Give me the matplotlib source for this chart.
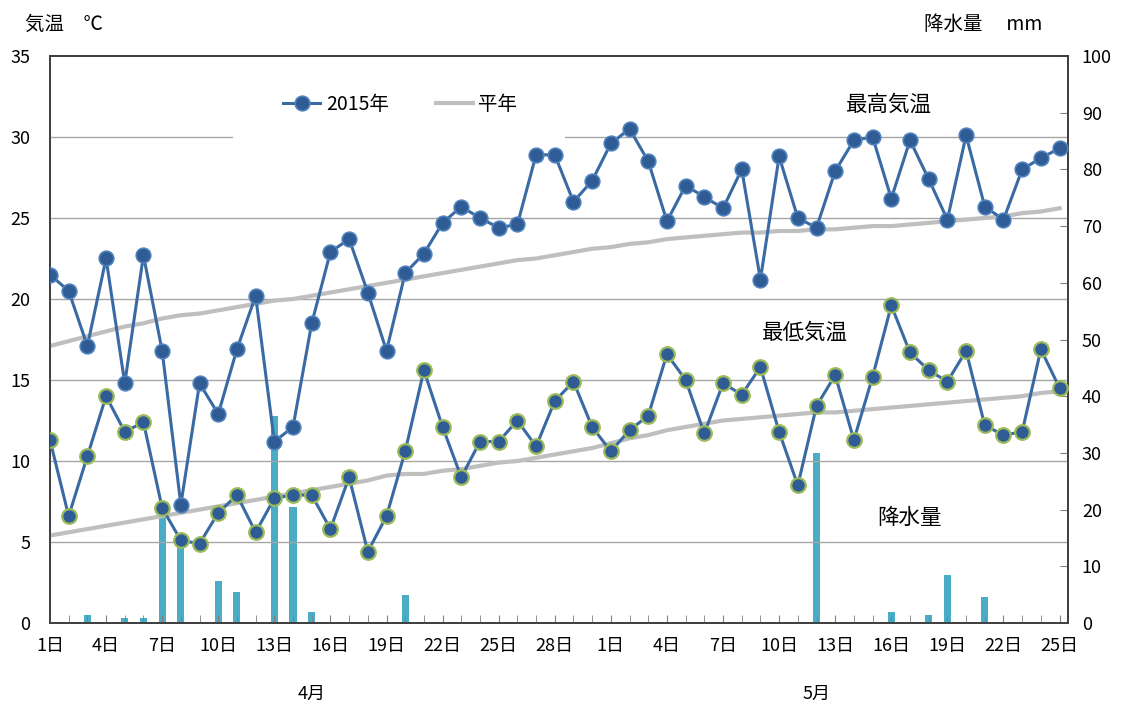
import matplotlib
matplotlib.use('Agg')
import matplotlib.pyplot as plt
from matplotlib.patches import Rectangle
import numpy as np

plt.rcParams['font.family'] = ['Noto Sans CJK JP', 'DejaVu Sans']

# April 1 .. May 25
months = [4] * 30 + [5] * 25
days = list(range(1, 31)) + list(range(1, 26))

max_2015 = [21.5, 20.5, 17.1, 22.5, 14.8, 22.7, 16.8, 7.3, 14.8, 12.9,
            16.9, 20.2, 11.2, 12.1, 18.5, 22.9, 23.7, 20.4, 16.8, 21.6,
            22.8, 24.7, 25.7, 25.0, 24.4, 24.6, 28.9, 28.9, 26.0, 27.3,
            29.6, 30.5, 28.5, 24.8, 27.0, 26.3, 25.6, 28.0, 21.2, 28.8,
            25.0, 24.4, 27.9, 29.8, 30.0, 26.2, 29.8, 27.4, 24.9, 30.1,
            25.7, 24.9, 28.0, 28.7, 29.3]
min_2015 = [11.3, 6.6, 10.3, 14.0, 11.8, 12.4, 7.1, 5.1, 4.9, 6.8,
            7.9, 5.6, 7.7, 7.9, 7.9, 5.8, 9.0, 4.4, 6.6, 10.6,
            15.6, 12.1, 9.0, 11.2, 11.2, 12.5, 10.9, 13.7, 14.9, 12.1,
            10.6, 11.9, 12.8, 16.6, 15.0, 11.7, 14.8, 14.1, 15.8, 11.8,
            8.5, 13.4, 15.3, 11.3, 15.2, 19.6, 16.7, 15.6, 14.9, 16.8,
            12.2, 11.6, 11.8, 16.9, 14.5]
max_normal = [17.1, 17.4, 17.7, 18.0, 18.3, 18.5, 18.8, 19.0, 19.1, 19.3,
              19.5, 19.7, 19.9, 20.0, 20.2, 20.4, 20.6, 20.8, 21.0, 21.2,
              21.4, 21.6, 21.8, 22.0, 22.2, 22.4, 22.5, 22.7, 22.9, 23.1,
              23.2, 23.4, 23.5, 23.7, 23.8, 23.9, 24.0, 24.1, 24.1, 24.2,
              24.2, 24.3, 24.3, 24.4, 24.5, 24.5, 24.6, 24.7, 24.8, 24.9,
              25.0, 25.1, 25.3, 25.4, 25.6]
min_normal = [5.4, 5.6, 5.8, 6.0, 6.2, 6.4, 6.6, 6.8, 7.0, 7.2,
              7.4, 7.6, 7.8, 8.0, 8.2, 8.4, 8.6, 8.8, 9.1, 9.2,
              9.2, 9.4, 9.5, 9.7, 9.9, 10.0, 10.2, 10.4, 10.6, 10.8,
              11.1, 11.4, 11.6, 11.9, 12.1, 12.3, 12.5, 12.6, 12.7, 12.8,
              12.9, 13.0, 13.0, 13.1, 13.2, 13.3, 13.4, 13.5, 13.6, 13.7,
              13.8, 13.9, 14.0, 14.2, 14.3]
precip = [0, 0, 1.4, 0, 0.9, 0.9, 20.5, 14.0, 0, 7.4,
          5.4, 0, 36.5, 20.5, 2.0, 0, 0, 0, 0, 4.9,
          0, 0, 0, 0, 0, 0, 0, 0, 0, 0,
          0, 0, 0, 0, 0, 0, 0, 0, 0, 0,
          0, 29.9, 0, 0, 0, 2.0, 0, 1.4, 8.5, 0,
          4.5, 0, 0, 0, 0]

x = np.arange(len(days))
line_c = '#3a6aa3'
dot_c = '#2f5c94'

fig = plt.figure(figsize=(11.23, 7.07), dpi=100)
ax = fig.add_axes([0.0445, 0.1188, 0.9065, 0.802])
ax2 = ax.twinx()

# precipitation bars on secondary axis, drawn behind the temperature lines
ax2.bar(x, precip, width=0.38, color='#4bacc6', zorder=2)
ax2.set_ylim(0, 100)
ax2.set_yticks(range(0, 101, 10))

ax.set_zorder(ax2.get_zorder() + 1)
ax.patch.set_visible(False)

for yv in range(5, 35, 5):
    ax.axhline(yv, color='#a6a6a6', lw=1.0, zorder=0)

# white box behind the legend (hides the 30 gridline there)
ax.add_patch(Rectangle((0.18, 0.852), 0.326, 0.14, transform=ax.transAxes,
                       facecolor='white', edgecolor='none', zorder=1))

l_norm, = ax.plot(x, max_normal, color='#bfbfbf', lw=3, zorder=2)
ax.plot(x, min_normal, color='#bfbfbf', lw=3, zorder=2)
l_2015, = ax.plot(x, max_2015, color=line_c, lw=2.2, marker='o', ms=10.5,
                  mfc=dot_c, mec='#4f81bd', mew=1.2, zorder=3)
ax.plot(x, min_2015, color=line_c, lw=2.2, marker='o', ms=10.5,
        mfc=dot_c, mec='#9bbb59', mew=1.6, zorder=3)

ax.set_xlim(0, 54.45)
ax.set_ylim(0, 35)
ax.set_yticks(range(0, 36, 5))
ax.set_xticks(x[::3])
ax.set_xticklabels([f'{d}日' for d in days[::3]])
ax.set_xticks(x, minor=True)

ax.tick_params(axis='x', which='both', direction='in', length=6,
               color='#808080', labelsize=13, pad=10)
ax.tick_params(axis='y', length=0, labelsize=13, pad=14)
ax2.tick_params(axis='y', direction='in', length=6, color='#808080',
                labelsize=13, pad=10)

for a in (ax, ax2):
    for s in a.spines.values():
        s.set_color('#404040')
        s.set_linewidth(1.3)

leg = ax.legend([l_2015, l_norm], ['2015年', '平年'], loc='center left',
                bbox_to_anchor=(0.212, 0.915), ncol=2, frameon=False,
                fontsize=14, handlelength=1.9, columnspacing=2.4,
                handletextpad=0.3)

ax.text(44.9, 32.0, '最高気温', fontsize=15.5, ha='center', va='center')
ax.text(40.4, 17.9, '最低気温', fontsize=15.5, ha='center', va='center')
ax.text(46.0, 6.5, '降水量', fontsize=15.5, ha='center', va='center')

fig.text(0.022, 0.965, '気温　℃', fontsize=14, ha='left', va='center')
fig.text(0.823, 0.965, '降水量　 mm', fontsize=14, ha='left', va='center')

ax.text(14, -0.125, '4月', transform=ax.get_xaxis_transform(),
        fontsize=13, ha='center', va='center')
ax.text(41, -0.125, '5月', transform=ax.get_xaxis_transform(),
        fontsize=13, ha='center', va='center')

fig.savefig('out.png', dpi=100)
